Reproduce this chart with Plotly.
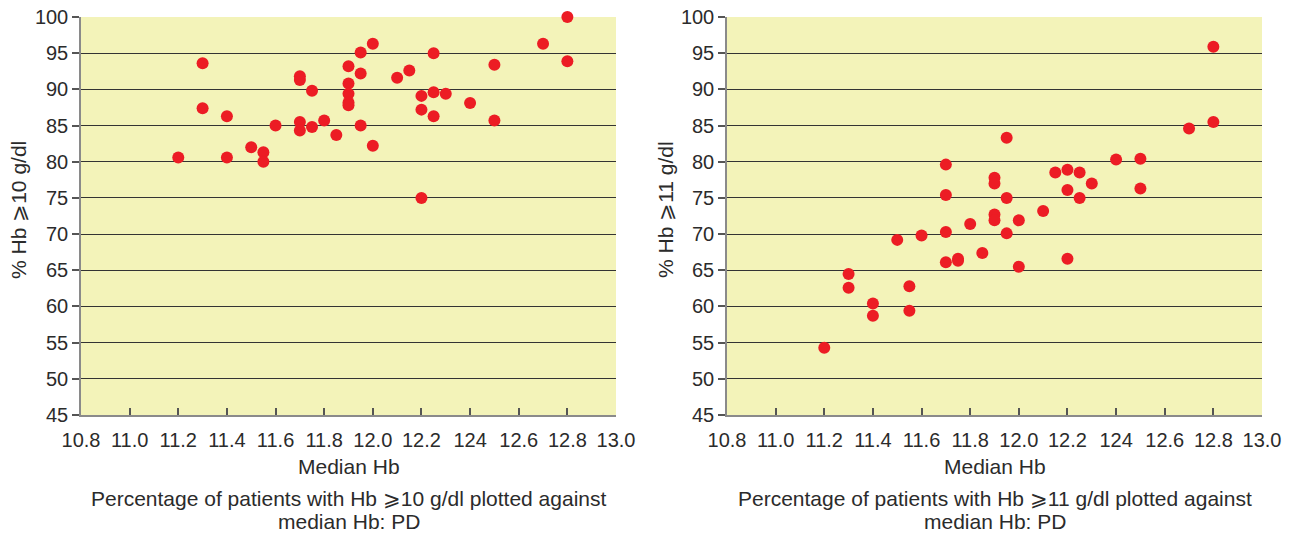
import plotly.graph_objects as go

# ---- data ----
x_hb10 = [11.2, 11.3, 11.3, 11.4, 11.4, 11.5, 11.55, 11.55, 11.6,
          11.7, 11.7, 11.7, 11.7, 11.75, 11.75, 11.8, 11.85,
          11.9, 11.9, 11.9, 11.9, 11.9, 11.95, 11.95, 11.95,
          12.0, 12.0, 12.1, 12.15, 12.2, 12.2, 12.2,
          12.25, 12.25, 12.25, 12.3, 12.4, 12.5, 12.5, 12.7, 12.8, 12.8]
y_hb10 = [80.6, 93.6, 87.4, 86.3, 80.6, 82.0, 81.3, 80.0, 85.0,
          91.8, 91.3, 85.5, 84.3, 89.8, 84.8, 85.7, 83.7,
          93.2, 90.8, 89.4, 88.2, 87.8, 95.1, 92.2, 85.0,
          96.3, 82.2, 91.6, 92.6, 89.1, 87.2, 75.0,
          95.0, 89.6, 86.3, 89.4, 88.1, 93.4, 85.7, 96.3, 100.0, 93.9]

x_hb11 = [11.2, 11.3, 11.3, 11.4, 11.4, 11.5, 11.55, 11.55, 11.6,
          11.7, 11.7, 11.7, 11.7, 11.75, 11.75, 11.8, 11.85,
          11.9, 11.9, 11.9, 11.9, 11.95, 11.95, 11.95,
          12.0, 12.0, 12.1, 12.15, 12.2, 12.2, 12.2,
          12.25, 12.25, 12.3, 12.4, 12.5, 12.5, 12.7, 12.8, 12.8]
y_hb11 = [54.3, 64.5, 62.6, 60.4, 58.7, 69.2, 62.8, 59.4, 69.8,
          79.6, 75.4, 70.3, 66.1, 66.6, 66.3, 71.4, 67.4,
          77.8, 77.0, 72.7, 71.9, 83.3, 75.0, 70.1,
          71.9, 65.5, 73.2, 78.5, 78.9, 76.1, 66.6,
          78.5, 75.0, 77.0, 80.3, 80.4, 76.3, 84.6, 95.9, 85.5]

x_tick_vals = [10.8, 11.0, 11.2, 11.4, 11.6, 11.8, 12.0, 12.2, 12.4, 12.6, 12.8, 13.0]
x_tick_text = ["10.8", "11.0", "11.2", "11.4", "11.6", "11.8", "12.0", "12.2", "124", "12.6", "12.8", "13.0"]
y_tick_vals = [45, 50, 55, 60, 65, 70, 75, 80, 85, 90, 95, 100]
y_grid_vals = [50, 55, 60, 65, 70, 75, 80, 85, 90, 95]

x_title = "Median Hb"
y_titles = ["% Hb \u2A7E10 g/dl", "% Hb \u2A7E11 g/dl"]
captions = [["Percentage of patients with Hb \u2A7E10 g/dl plotted against", "median Hb: PD"],
            ["Percentage of patients with Hb \u2A7E11 g/dl plotted against", "median Hb: PD"]]

FONT = "Liberation Sans, Arial, sans-serif"
TXT = "#2b2b2b"
BG = "#F3F3B9"
RED = "#EC1C24"

ML, MR, MT, MB = 81, 27, 17, 120
W, H = 1289, 535
PW, PH = W - ML - MR, H - MT - MB

def px_x(p):
    return (p - ML) / PW

def px_y(p):
    return (H - MB - p) / PH

fig = go.Figure()
fig.add_trace(go.Scatter(x=x_hb10, y=y_hb10, mode="markers", xaxis="x", yaxis="y",
                         marker=dict(color=RED, size=12), cliponaxis=False, showlegend=False))
fig.add_trace(go.Scatter(x=x_hb11, y=y_hb11, mode="markers", xaxis="x2", yaxis="y2",
                         marker=dict(color=RED, size=12), cliponaxis=False, showlegend=False))

xdoms = [[0.0, px_x(616)], [px_x(727), 1.0]]

def xax(dom, anchor):
    return dict(domain=dom, anchor=anchor, range=[10.8, 13.0], tickvals=x_tick_vals,
                ticktext=x_tick_text, showgrid=False, zeroline=False, automargin=False,
                showline=True, linecolor="#8a8a8a", linewidth=1.5,
                ticks="inside", ticklen=7, tickcolor="#555", tickwidth=1.5,
                ticklabelstandoff=6,
                tickfont=dict(family=FONT, size=20, color=TXT))

def yax(anchor):
    return dict(domain=[0, 1], anchor=anchor, range=[45, 100], tickvals=y_tick_vals,
                showgrid=False, zeroline=False, automargin=False,
                showline=True, linecolor="#8a8a8a", linewidth=1.5,
                ticks="outside", ticklen=7, tickcolor="#555", tickwidth=1.5,
                tickfont=dict(family=FONT, size=20, color=TXT))

def gridax(overlay, anchor):
    # overlay axis used only to draw horizontal gridlines (no line at 100)
    return dict(overlaying=overlay, anchor=anchor, range=[45, 100], tickvals=y_grid_vals,
                showgrid=True, gridcolor="#333333", gridwidth=1.2, zeroline=False,
                automargin=False, showline=False, showticklabels=False, ticks="",
                layer="below traces")

fig.update_layout(
    width=W, height=H,
    margin=dict(l=ML, r=MR, t=MT, b=MB),
    paper_bgcolor="white",
    plot_bgcolor=BG,
    xaxis=xax(xdoms[0], "y"),
    yaxis=yax("x"),
    xaxis2=xax(xdoms[1], "y2"),
    yaxis2=yax("x2"),
    yaxis3=gridax("y", "x"),
    yaxis4=gridax("y2", "x2"),
)

# empty traces so the gridline axes get drawn
fig.add_trace(go.Scatter(x=[], y=[], xaxis="x", yaxis="y3", showlegend=False, hoverinfo="skip"))
fig.add_trace(go.Scatter(x=[], y=[], xaxis="x2", yaxis="y4", showlegend=False, hoverinfo="skip"))

fig.add_shape(type="rect", xref="x2 domain", yref="y2 domain", x0=0, x1=1, y0=0, y1=1,
              fillcolor=BG, line=dict(width=0), layer="below")

ytitle_x = [px_x(18), px_x(665)]
for i in range(2):
    cx = (xdoms[i][0] + xdoms[i][1]) / 2
    fig.add_annotation(text=x_title, xref="paper", yref="paper", x=cx, y=px_y(467),
                       xanchor="center", yanchor="middle", showarrow=False,
                       font=dict(family=FONT, size=21, color=TXT))
    fig.add_annotation(text=y_titles[i], xref="paper", yref="paper", x=ytitle_x[i], y=px_y(210),
                       xanchor="center", yanchor="middle", showarrow=False, textangle=-90,
                       font=dict(family=FONT, size=21, color=TXT))
    for j, line in enumerate(captions[i]):
        fig.add_annotation(text=line, xref="paper", yref="paper", x=cx,
                           y=px_y([498, 521][j]), xanchor="center", yanchor="middle",
                           showarrow=False, font=dict(family=FONT, size=21, color=TXT))

fig.write_html("out.html", config={"displayModeBar": False},
               post_script="document.body.style.margin='0';document.body.style.overflow='hidden';")
